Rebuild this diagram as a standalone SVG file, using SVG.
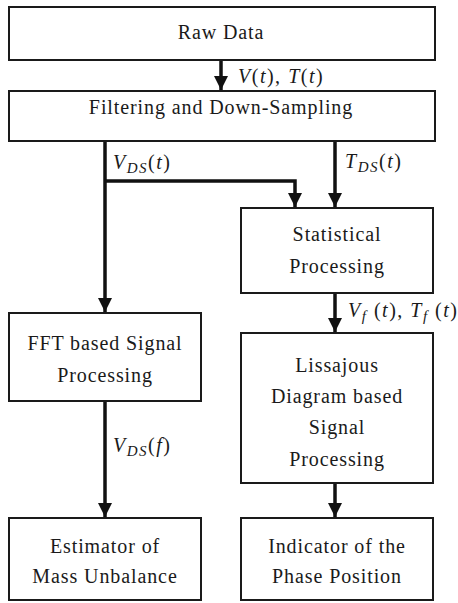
<svg xmlns="http://www.w3.org/2000/svg" width="458" height="603" viewBox="0 0 458 603">
<style>
.box{fill:#fff;stroke:#1a1a1a;stroke-width:2}
.t{font-family:'Liberation Serif','Times New Roman',serif;font-size:20px;fill:#1a1a1a;text-anchor:middle;letter-spacing:0.9px}
.m{font-family:'Liberation Serif','Times New Roman',serif;font-size:20px;font-style:italic;fill:#1a1a1a;letter-spacing:1.5px}
.s{font-size:15px}
.c{fill:none;stroke:#111;stroke-width:3.5}
</style>
<defs>
<marker id="ah" markerUnits="userSpaceOnUse" markerWidth="14" markerHeight="14" viewBox="0 0 14 14" refX="14" refY="7" orient="auto">
<path d="M0,0 L14,7 L0,14 Z" fill="#111"/>
</marker>
</defs>
<rect width="458" height="603" fill="#fff"/>
<g id="raw"><rect class="box" x="9" y="7" width="426" height="53"/><text class="t" x="221" y="39">Raw Data</text></g>
<g id="filter"><rect class="box" x="9" y="91" width="426" height="50"/><text class="t" x="221" y="114">Filtering and Down-Sampling</text></g>
<g id="stat"><rect class="box" x="241" y="208" width="192" height="85"/><text class="t" x="337" y="241">Statistical</text><text class="t" x="337" y="273">Processing</text></g>
<g id="fft"><rect class="box" x="9" y="313" width="192" height="88"/><text class="t" x="105" y="350">FFT based Signal</text><text class="t" x="105" y="382">Processing</text></g>
<g id="liss"><rect class="box" x="241" y="333" width="192" height="150"/><text class="t" x="337" y="372">Lissajous</text><text class="t" x="337" y="403">Diagram based</text><text class="t" x="337" y="434">Signal</text><text class="t" x="337" y="466">Processing</text></g>
<g id="est"><rect class="box" x="9" y="518" width="192" height="82"/><text class="t" x="105" y="553">Estimator of</text><text class="t" x="105" y="583">Mass Unbalance</text></g>
<g id="ind"><rect class="box" x="241" y="518" width="192" height="82"/><text class="t" x="337" y="553">Indicator of the</text><text class="t" x="337" y="583">Phase Position</text></g>
<g id="connectors">
<line class="c" x1="221" y1="61" x2="221" y2="90" marker-end="url(#ah)"/>
<line class="c" x1="105" y1="142" x2="105" y2="312" marker-end="url(#ah)"/>
<polyline class="c" points="105,181 295,181 295,207" marker-end="url(#ah)"/>
<line class="c" x1="335" y1="142" x2="335" y2="207" marker-end="url(#ah)"/>
<line class="c" x1="335" y1="294" x2="335" y2="332" marker-end="url(#ah)"/>
<line class="c" x1="105" y1="402" x2="105" y2="517" marker-end="url(#ah)"/>
<line class="c" x1="335" y1="484" x2="335" y2="517" marker-end="url(#ah)"/>
</g>
<g id="labels">
<text class="m" x="238" y="83">V<tspan font-style="normal">(</tspan>t<tspan font-style="normal">), </tspan>T<tspan font-style="normal">(</tspan>t<tspan font-style="normal">)</tspan></text>
<text class="m" x="113" y="169">V<tspan class="s" dy="4">DS</tspan><tspan dy="-4" font-style="normal">(</tspan>t<tspan font-style="normal">)</tspan></text>
<text class="m" x="345" y="168">T<tspan class="s" dy="4">DS</tspan><tspan dy="-4" font-style="normal">(</tspan>t<tspan font-style="normal">)</tspan></text>
<text class="m" x="348" y="317">V<tspan class="s" dy="4">f</tspan><tspan dy="-4" font-style="normal"> (</tspan>t<tspan font-style="normal">), </tspan>T<tspan class="s" dy="4">f</tspan><tspan dy="-4" font-style="normal"> (</tspan>t<tspan font-style="normal">)</tspan></text>
<text class="m" x="113" y="452">V<tspan class="s" dy="4">DS</tspan><tspan dy="-4" font-style="normal">(</tspan>f<tspan font-style="normal">)</tspan></text>
</g>
</svg>
